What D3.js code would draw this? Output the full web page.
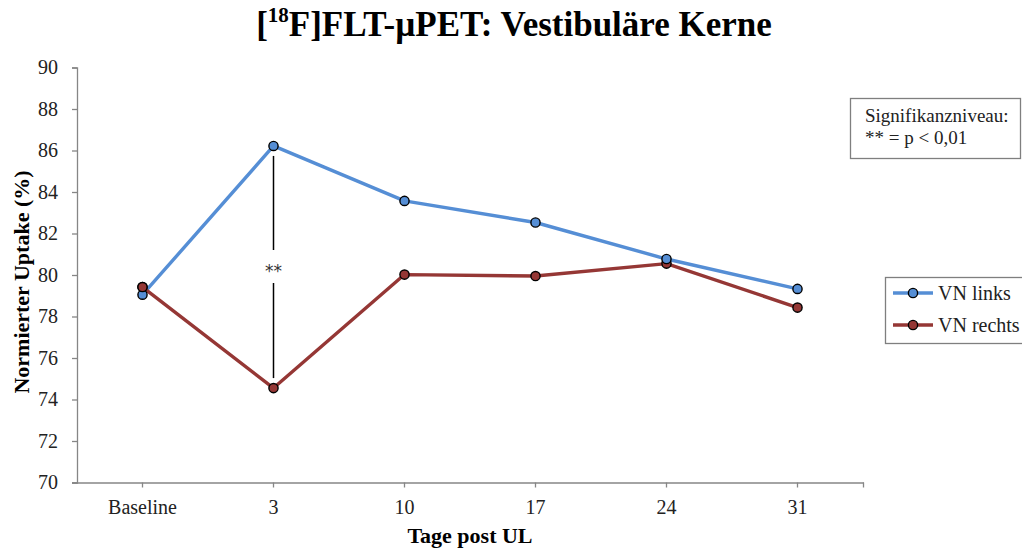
<!DOCTYPE html>
<html>
<head>
<meta charset="utf-8">
<script src="https://cdn.jsdelivr.net/npm/d3@7/dist/d3.min.js"></script>
<style>
  html, body { margin: 0; padding: 0; background: #fff; }
  svg { display: block; font-family: "Liberation Serif", "Times New Roman", serif; }
</style>
</head>
<body>
<svg id="chart" width="1022" height="548"></svg>
<script>
// Tage nach unilateraler Labyrinthektomie
const categories = ["Baseline", "3", "10", "17", "24", "31"];
const vnLinks = [79.05, 86.22, 83.57, 82.53, 80.77, 79.33];
const vnRechts = [79.42, 74.55, 80.02, 79.95, 80.55, 78.43];
const yTicks = [70, 72, 74, 76, 78, 80, 82, 84, 86, 88, 90];
const seriesNames = ["VN links", "VN rechts"];
const seriesColors = ["#558ED5", "#953735"];

const svg = d3.select("#chart");
const plotLeft = 77, plotRight = 863, plotTop = 67.5, plotBottom = 482.5;

const x = d3.scaleBand().domain(categories).range([plotLeft, plotRight]);
const y = d3.scaleLinear().domain([70, 90]).range([plotBottom, plotTop]);
const cx = c => x(c) + x.bandwidth() / 2;

// Titel
const title = svg.append("text")
  .attr("x", 514).attr("y", 36)
  .attr("text-anchor", "middle")
  .attr("font-size", 35).attr("font-weight", "bold").attr("fill", "#000");
title.append("tspan").text("[");
title.append("tspan").attr("font-size", 21).attr("dy", -14).text("18");
title.append("tspan").attr("dy", 14).text("F]FLT-µPET: Vestibuläre Kerne");

// Y-Achse
const yAxis = svg.append("g")
  .attr("transform", `translate(${plotLeft},0)`)
  .call(d3.axisLeft(y).tickValues(yTicks).tickSize(5).tickPadding(14));
yAxis.select(".domain").attr("stroke", "#868686").attr("stroke-width", 1.3);
yAxis.selectAll(".tick line").attr("stroke", "#868686").attr("stroke-width", 1.3);
yAxis.selectAll(".tick text")
  .attr("font-family", "Liberation Serif, Times New Roman, serif")
  .attr("font-size", 20).attr("fill", "#222");

// X-Achse
const xAxis = svg.append("g")
  .attr("transform", `translate(0,${plotBottom})`)
  .call(d3.axisBottom(x).tickSize(5).tickPadding(12).tickSizeOuter(0));
xAxis.select(".domain").attr("stroke", "#868686").attr("stroke-width", 1.3)
  .attr("d", `M${plotLeft - 5},0.5H${plotRight + 1}`);
xAxis.selectAll(".tick line").attr("stroke", "#868686").attr("stroke-width", 1.3);
xAxis.selectAll(".tick text")
  .attr("font-family", "Liberation Serif, Times New Roman, serif")
  .attr("font-size", 20).attr("fill", "#222");
xAxis.append("line")
  .attr("x1", plotRight + 0.5).attr("x2", plotRight + 0.5).attr("y1", 0).attr("y2", 5)
  .attr("stroke", "#868686").attr("stroke-width", 1.3);

// Achsentitel
svg.append("text")
  .attr("x", 470).attr("y", 543)
  .attr("text-anchor", "middle")
  .attr("font-size", 22).attr("font-weight", "bold")
  .text("Tage post UL");
svg.append("text")
  .attr("transform", "translate(29,282) rotate(-90)")
  .attr("text-anchor", "middle")
  .attr("font-size", 22).attr("font-weight", "bold")
  .text("Normierter Uptake (%)");

// Signifikanzmarkierung bei Tag 3
const sigX = cx("3");
svg.append("line")
  .attr("x1", sigX).attr("x2", sigX)
  .attr("y1", y(vnLinks[1]) + 10).attr("y2", 250)
  .attr("stroke", "#000").attr("stroke-width", 1.5);
svg.append("line")
  .attr("x1", sigX).attr("x2", sigX)
  .attr("y1", 283).attr("y2", y(vnRechts[1]) - 10)
  .attr("stroke", "#000").attr("stroke-width", 1.5);
svg.append("text")
  .attr("x", sigX).attr("y", 277)
  .attr("text-anchor", "middle")
  .attr("font-family", "DejaVu Sans, sans-serif")
  .attr("font-size", 17).attr("fill", "#333")
  .text("**");

// Datenreihen
const line = d3.line().x((d, i) => cx(categories[i])).y(d => y(d));
[vnLinks, vnRechts].forEach((vals, s) => {
  svg.append("path")
    .datum(vals)
    .attr("d", line)
    .attr("fill", "none")
    .attr("stroke", seriesColors[s])
    .attr("stroke-width", 3.4)
    .attr("stroke-linejoin", "round");
});
// Marker: rechts unter links
[vnRechts, vnLinks].forEach((vals, k) => {
  const s = k === 0 ? 1 : 0;
  svg.append("g").selectAll("circle")
    .data(vals)
    .join("circle")
    .attr("cx", (d, i) => cx(categories[i]))
    .attr("cy", d => y(d))
    .attr("r", 4.6)
    .attr("fill", seriesColors[s])
    .attr("stroke", "#000")
    .attr("stroke-width", 1.4);
});
// Baseline: rechts liegt über links
svg.append("circle")
  .attr("cx", cx(categories[0])).attr("cy", y(vnRechts[0]))
  .attr("r", 4.6).attr("fill", seriesColors[1])
  .attr("stroke", "#000").attr("stroke-width", 1.4);

// Signifikanz-Kasten
svg.append("rect")
  .attr("x", 850.5).attr("y", 98.5).attr("width", 170).attr("height", 60)
  .attr("fill", "#fff").attr("stroke", "#7f7f7f").attr("stroke-width", 1.3);
svg.append("text").attr("x", 865).attr("y", 122)
  .attr("font-size", 19).attr("fill", "#222").text("Signifikanzniveau:");
svg.append("text").attr("x", 865).attr("y", 144)
  .attr("font-size", 19).attr("fill", "#222").text("** = p < 0,01");

// Legende
const legend = svg.append("g");
legend.append("rect")
  .attr("x", 885.5).attr("y", 277.5).attr("width", 150).attr("height", 66)
  .attr("fill", "#fff").attr("stroke", "#7f7f7f").attr("stroke-width", 1.3);
seriesNames.forEach((name, i) => {
  const ly = 293 + i * 32;
  legend.append("line")
    .attr("x1", 893).attr("x2", 933).attr("y1", ly).attr("y2", ly)
    .attr("stroke", seriesColors[i]).attr("stroke-width", 3.4);
  legend.append("circle")
    .attr("cx", 913).attr("cy", ly).attr("r", 4.6)
    .attr("fill", seriesColors[i]).attr("stroke", "#000").attr("stroke-width", 1.4);
  legend.append("text")
    .attr("x", 938).attr("y", ly + 7)
    .attr("font-size", 20).attr("fill", "#222").text(name);
});
</script>
</body>
</html>
